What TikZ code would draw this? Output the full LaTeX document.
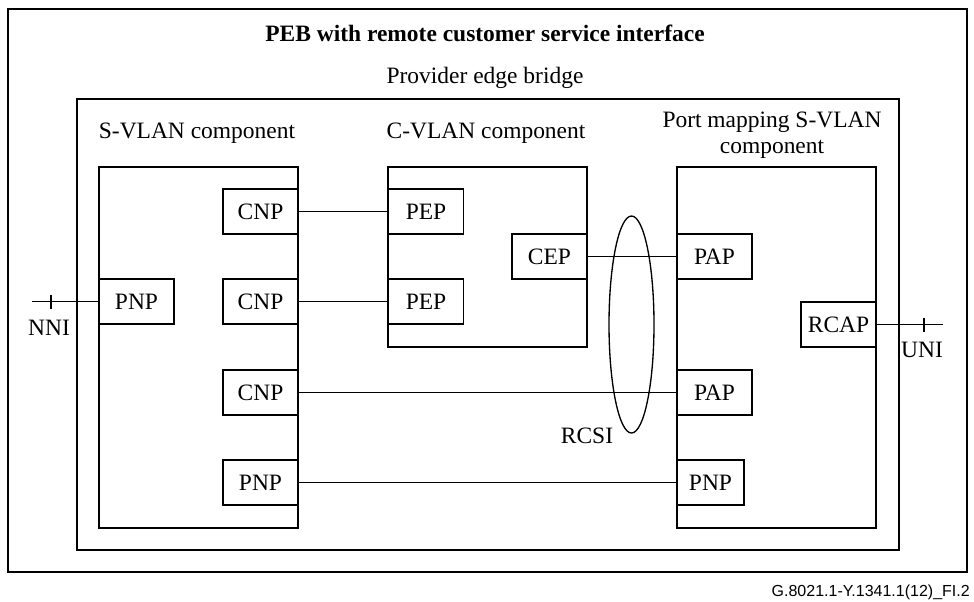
\documentclass[tikz,border=0pt]{standalone}
\usepackage{fontspec}
\setmainfont{Liberation Serif}
\setsansfont{Liberation Sans}
\usetikzlibrary{calc}
\begin{document}
\begin{tikzpicture}[x=0.75pt,y=-0.75pt,
  every node/.style={font=\fontsize{17.6}{19.5}\selectfont},
  frame/.style={draw,line width=1pt},
  port/.style={draw,line width=1pt,minimum width=56.25pt,minimum height=33.75pt,inner sep=0pt},
  narrowport/.style={port,minimum width=50.25pt},
  link/.style={line width=1pt},
  lbl/.style={anchor=base,inner sep=0pt}]
\useasboundingbox (0,0) rectangle (974,601);
% frames
\draw[frame] (8,9) rectangle (967,572);
\draw[frame] (77,99) rectangle (899,550);
\draw[frame] (99,167) rectangle (298,528);
\draw[frame] (388,167) rectangle (587,347);
\draw[frame] (677,167) rectangle (876,528);
% labels
\node[lbl,font=\fontsize{17.6}{19.5}\selectfont\bfseries] (title) at (485,41) {PEB with remote customer service interface};
\node[lbl] (peb) at (485,83) {Provider edge bridge};
\node[lbl] (svlan) at (197,138) {S-VLAN component};
\node[lbl] (cvlan) at (486,138) {C-VLAN component};
\node[lbl,align=center] (pm) at (772,153) {Port mapping S-VLAN\\component};
% ports
\node[port] (pnpl) at (136.5,301.5) {PNP};
\node[port] (cnp1) at (260.5,211.5) {CNP};
\node[port] (cnp2) at (260.5,301.5) {CNP};
\node[port] (cnp3) at (260.5,392.5) {CNP};
\node[port] (pnp3) at (260.5,482.5) {PNP};
\node[port] (pep1) at (426,211.5) {PEP};
\node[port] (pep2) at (426,301.5) {PEP};
\node[port] (cep) at (549.5,256.5) {CEP};
\node[port] (pap1) at (714.5,256.5) {PAP};
\node[port] (pap2) at (714.5,392.5) {PAP};
\node[narrowport] (pnpr) at (710.5,482.5) {PNP};
\node[port] (rcap) at (838.5,324.5) {RCAP};
% links
\draw[link] (cnp1) -- (pep1);
\draw[link] (cnp2) -- (pep2);
\draw[link] (cep) -- (pap1);
\draw[link] (cnp3) -- (pap2);
\draw[link] (pnp3) -- (pnpr);
% NNI / UNI
\coordinate (nniend) at (32,301.5);
\coordinate (uniend) at (943,324.5);
\draw[link] (nniend) -- (pnpl);
\draw[link] (51,294.5) -- (51,308.5);
\draw[link] (rcap) -- (uniend);
\draw[link] (924,317.5) -- (924,331.5);
\node[lbl] (nni) at (49,335) {NNI};
\node[lbl] (uni) at (922,357) {UNI};
% RCSI
\draw[link] (631.5,324.5) ellipse [x radius=22.5,y radius=108.5];
\node[lbl] (rcsi) at (587,443) {RCSI};
% footer
\node[anchor=base east,inner sep=0pt,font=\sffamily\fontsize{12}{14}\selectfont] (fig) at (970,596) {G.8021.1-Y.1341.1(12)\_FI.2};
\end{tikzpicture}
\end{document}
